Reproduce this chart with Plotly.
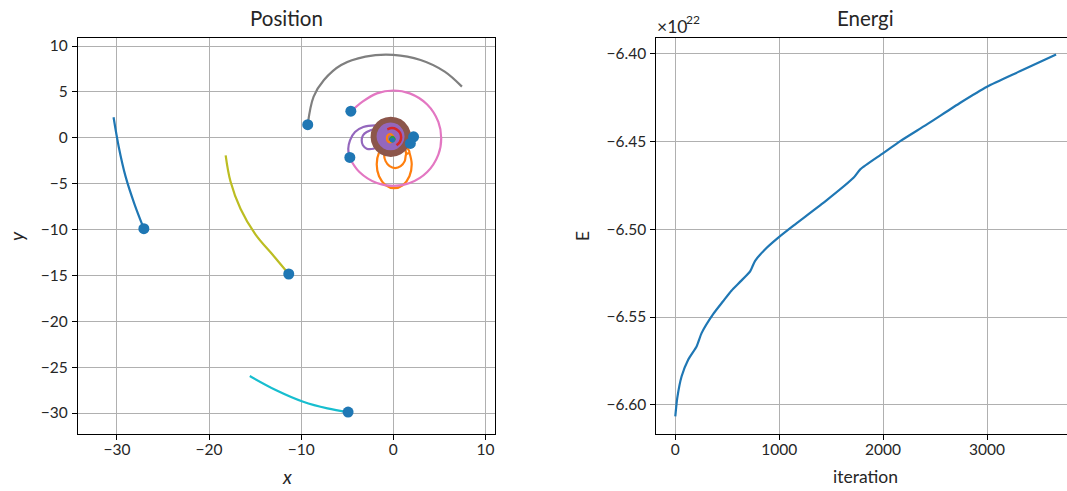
import plotly.graph_objects as go

# ---------------- data ----------------
# Orbit tracks (x, y) in AU, time-ordered; the last point is the final position
pluto_x = [-30.37, -29.81, -29.06, -28.13, -27.08]
pluto_y = [2.23, -0.97, -4.24, -7.14, -9.91]

uranus_x = [-18.20, -17.68, -16.59, -14.99, -12.94, -11.35]
uranus_y = [-1.91, -4.74, -7.73, -10.50, -12.94, -14.85]

neptune_x = [-15.58, -12.77, -9.78, -7.15, -4.91]
neptune_y = [-25.97, -27.49, -28.77, -29.50, -29.90]

saturn_x = [7.45, 5.58, 2.96, 0.00, -3.03, -5.66, -7.53, -8.65, -9.29]
saturn_y = [5.57, 7.21, 8.48, 9.03, 8.84, 7.93, 6.29, 4.48, 1.45]

jupiter_x = [-4.83, -3.68, -1.78, 0.00, 1.78, 3.68, 4.89, 5.20, 4.89, 3.68, 1.78, 0.00, -1.78, -3.34, -4.61]
jupiter_y = [-2.06, -3.73, -4.94, -5.25, -4.94, -3.73, -1.83, -0.05, 1.73, 3.63, 4.84, 5.15, 4.84, 3.93, 2.85]

# Mercury-like track: two growing loops below the Sun
loops_orange_x = [1.40, 1.24, 0.80, 0.20, -0.40, -0.84, -1.00, -0.84, -0.40, 0.20, 0.80, 1.24, 1.40,
                  1.75, 1.05, 0.10, -0.85, -1.55, -1.80, -1.55, -0.85, 0.10, 1.05, 1.75, 2.00, 1.75]
loops_orange_y = [-1.80, -1.05, -0.50, -0.30, -0.50, -1.05, -1.80, -2.55, -3.10, -3.30, -3.10, -2.55, -1.80,
                  -1.60, -0.65, -0.30, -0.65, -1.60, -2.90, -4.20, -5.15, -5.50, -5.15, -4.20, -2.90, -1.60]

# Mars-like track: loops growing to the left
loops_purple_x = [-1.00, -1.80, -2.89, -3.30, -3.43, -3.30, -2.89, -2.17, -1.50, -1.00, -0.90, -1.30,
                  -1.99, -3.26, -4.16, -4.70, -4.89, -4.80, -4.70]
loops_purple_y = [1.00, 0.99, 0.63, 0.25, -0.30, -0.82, -1.19, -1.20, -0.90, -0.30, 0.60, 1.30,
                  1.36, 1.17, 0.63, -0.28, -1.19, -1.85, -2.10]

# Densely wound inner orbits around the Sun
disc_brown_x = [1.81, 1.53, 0.77, -0.27, -1.31, -2.07, -2.35, -2.07, -1.31, -0.27, 0.77, 1.53, 1.81]
disc_brown_y = [0.10, 1.14, 1.90, 2.18, 1.90, 1.14, 0.10, -0.94, -1.70, -1.98, -1.70, -0.94, 0.10]

disc_purple_x = [1.10, 0.91, 0.40, -0.30, -1.00, -1.51, -1.70, -1.51, -1.00, -0.30, 0.40, 0.91, 1.10]
disc_purple_y = [0.15, 0.85, 1.36, 1.55, 1.36, 0.85, 0.15, -0.55, -1.06, -1.25, -1.06, -0.55, 0.15]

arc_red_x = [0.35, 0.72, 0.85, 0.72, 0.35, -0.15, -0.65]
arc_red_y = [-0.82, -0.45, 0.05, 0.55, 0.92, 1.05, 0.92]

ring_orange_x = [0.00, -0.18, -0.53, -0.70, -0.53, -0.18, 0.00]
ring_orange_y = [-0.05, 0.34, 0.34, -0.05, -0.44, -0.44, -0.05]

ring_green_x = [0.15, -0.10, -0.35, -0.10, 0.15]
ring_green_y = [-0.15, 0.10, -0.15, -0.40, -0.15]

sun_x = [-0.10]
sun_y = [-0.25]

# Final positions of the bodies
final_x = [-27.08, -11.35, -4.91, -9.29, -4.61, -4.72, 2.20, 1.85]
final_y = [-9.91, -14.85, -29.90, 1.42, 2.90, -2.15, 0.10, -0.62]

# Total energy per iteration, in units of 1e22
iteration = [0, 19, 61, 125, 206, 254, 366, 460, 540, 623, 720, 768, 880, 1000, 1137,
             1458, 1715, 1780, 1998, 2165, 2422, 2743, 3000, 3321, 3665]
energy_e22 = [-6.6065, -6.5960, -6.5837, -6.5742, -6.5666, -6.5590, -6.5482, -6.5410,
              -6.5350, -6.5300, -6.5240, -6.5180, -6.5106, -6.5044, -6.4980, -6.4835,
              -6.4708, -6.4660, -6.4569, -6.4499, -6.4404, -6.4281, -6.4190, -6.4101, -6.4006]

pos_xticks = [-30, -20, -10, 0, 10]
pos_xlabels = ["\u221230", "\u221220", "\u221210", "0", "10"]
pos_yticks = [10, 5, 0, -5, -10, -15, -20, -25, -30]
pos_ylabels = ["10", "5", "0", "\u22125", "\u221210", "\u221215", "\u221220", "\u221225", "\u221230"]
en_xticks = [0, 1000, 2000, 3000]
en_xlabels = ["0", "1000", "2000", "3000"]
en_yticks = [-6.40, -6.45, -6.50, -6.55, -6.60]
en_ylabels = ["\u22126.40", "\u22126.45", "\u22126.50", "\u22126.55", "\u22126.60"]

# ---------------- styling ----------------
C = {
    "blue": "#1f77b4", "orange": "#ff7f0e", "green": "#2ca02c", "red": "#d62728",
    "purple": "#9467bd", "brown": "#8c564b", "pink": "#e377c2", "gray": "#7f7f7f",
    "olive": "#bcbd22", "cyan": "#17becf",
}
W, H = 1067, 491
FONT = "Lato, 'Noto Sans', sans-serif"
TXT = "#262626"
LW = 2.2

fig = go.Figure()


def track(x, y, color, width=LW, fill=False, axes=("x", "y"), smoothing=1.0):
    fig.add_trace(go.Scatter(
        x=x, y=y, mode="lines",
        line=dict(color=color, width=width, shape="spline", smoothing=smoothing),
        fill="toself" if fill else None,
        fillcolor=color if fill else None,
        hoverinfo="skip", showlegend=False, xaxis=axes[0], yaxis=axes[1],
    ))


track(loops_orange_x, loops_orange_y, C["orange"])
track(loops_purple_x, loops_purple_y, C["purple"])
track(disc_brown_x, disc_brown_y, C["brown"], fill=True)
track(disc_purple_x, disc_purple_y, C["purple"], fill=True)
track(arc_red_x, arc_red_y, C["red"], width=2.5)
track(ring_orange_x, ring_orange_y, C["orange"])
track(ring_green_x, ring_green_y, C["green"])
track(jupiter_x, jupiter_y, C["pink"])
track(saturn_x, saturn_y, C["gray"])
track(uranus_x, uranus_y, C["olive"])
track(neptune_x, neptune_y, C["cyan"])
track(pluto_x, pluto_y, C["blue"])

fig.add_trace(go.Scatter(x=sun_x, y=sun_y, mode="markers",
                         marker=dict(color=C["blue"], size=5),
                         hoverinfo="skip", showlegend=False, xaxis="x", yaxis="y"))
fig.add_trace(go.Scatter(x=final_x, y=final_y, mode="markers",
                         marker=dict(color=C["blue"], size=11, line=dict(width=0)),
                         hoverinfo="skip", showlegend=False, xaxis="x", yaxis="y"))

# Energy curve
track(iteration, energy_e22, C["blue"], axes=("x2", "y2"), smoothing=0.6)


def px_x(p):
    return p / W


def px_y(p):
    return 1 - p / H


left_dom = [px_x(78), px_x(495)]
right_dom = [px_x(656.3), 1.0]
v_dom = [px_y(434.3), px_y(37.7)]

axis_common = dict(
    showgrid=True, gridcolor="#b0b0b0", gridwidth=1, zeroline=False,
    showline=True, linecolor="black", linewidth=1.1,
    ticks="outside", ticklen=5, tickwidth=1.1, tickcolor="black",
    tickfont=dict(family=FONT, size=15.5, color=TXT), tickmode="array",
)

fig.update_layout(
    width=W, height=H, autosize=False,
    margin=dict(l=0, r=0, t=0, b=0),
    paper_bgcolor="white", plot_bgcolor="white",
    showlegend=False,
    xaxis=dict(domain=left_dom, range=[-34.23, 11.04], anchor="y", mirror=True,
               tickvals=pos_xticks, ticktext=pos_xlabels, ticklabelstandoff=-4, **axis_common),
    yaxis=dict(domain=v_dom, range=[-32.32, 10.905], anchor="x", mirror=True,
               tickvals=pos_yticks, ticktext=pos_ylabels, ticklabelstandoff=1, **axis_common),
    xaxis2=dict(domain=right_dom, range=[-182.9, 3770], anchor="y2", mirror=True,
                tickvals=en_xticks, ticktext=en_xlabels, ticklabelstandoff=-4, **axis_common),
    yaxis2=dict(domain=v_dom, range=[-6.6167, -6.3911], anchor="x2", mirror=False,
                tickvals=en_yticks, ticktext=en_ylabels, ticklabelstandoff=1, **axis_common),
)


def label(text, x, y, size=17.5, angle=0, xanchor="center", yanchor="middle", italic=False):
    fig.add_annotation(
        text=text, x=px_x(x), y=px_y(y), xref="paper", yref="paper",
        showarrow=False, textangle=angle, xanchor=xanchor, yanchor=yanchor,
        font=dict(family=FONT, size=size, color=TXT,
                  style="italic" if italic else "normal"),
    )


label("Position", 286.5, 18, size=20.5)
label("Energi", 865, 18, size=20.5)
label("x", 286.5, 476, size=19, italic=True)
label("y", 16, 236, size=19, angle=-90, italic=True)
label("iteration", 865, 476)
label("E", 582, 236, angle=-90)
# axis offset text: ×10 with a raised exponent
label("\u00d710", 655, 27, size=17.5, xanchor="left")
label("22", 684, 20, size=12, xanchor="left")

fig.write_html("out.html")
